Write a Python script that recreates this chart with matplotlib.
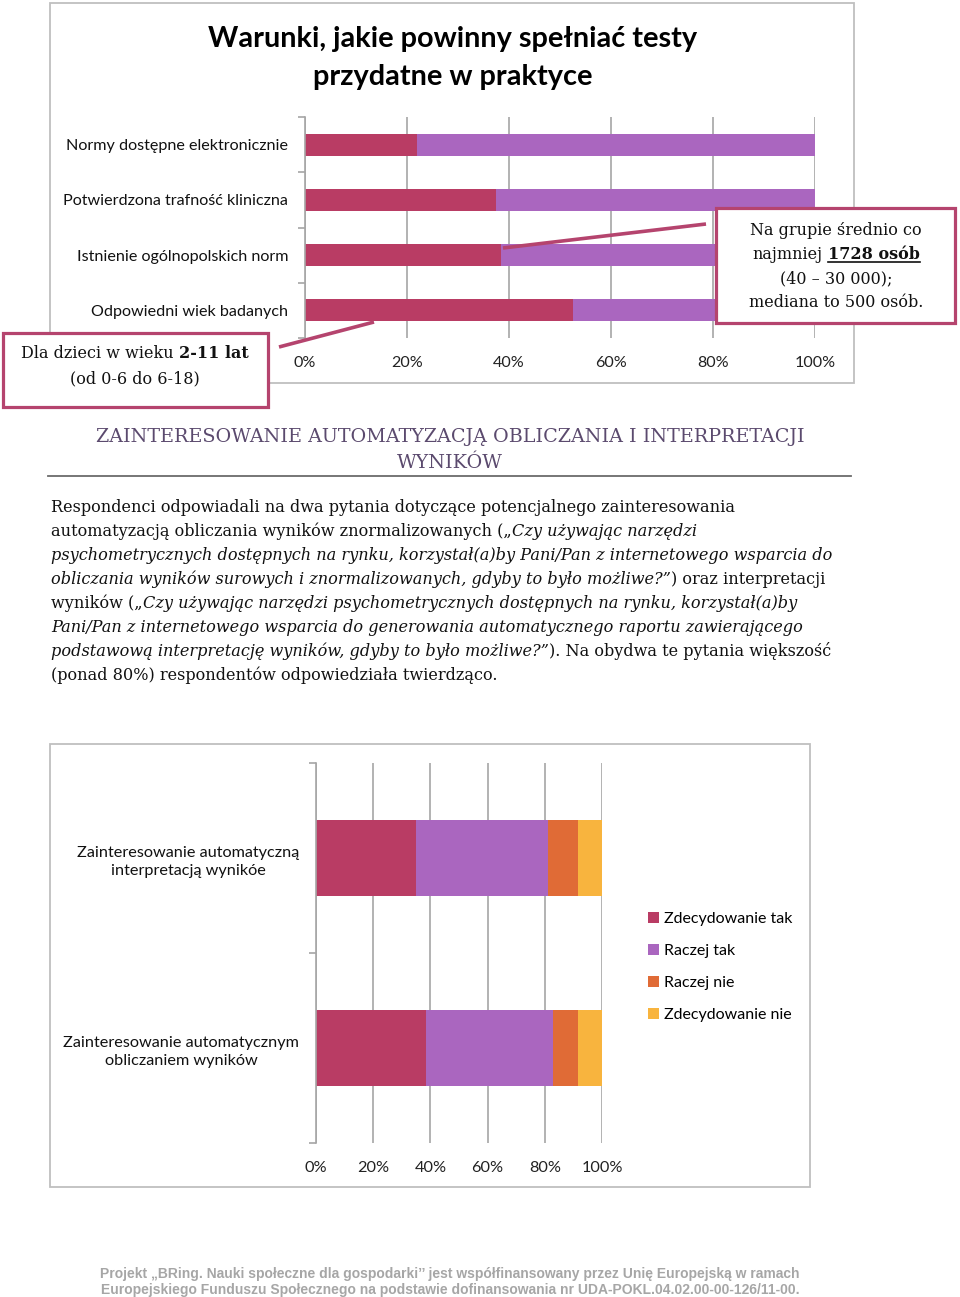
import matplotlib.pyplot as plt
from matplotlib.patches import Rectangle
from matplotlib.ticker import FixedLocator

W, H = 960, 1297

# top chart: share of first/second answer per condition (%)
top_cats = ["Normy dostępne elektronicznie", "Potwierdzona trafność kliniczna",
            "Istnienie ogólnopolskich norm", "Odpowiedni wiek badanych"]
top_first = [22, 37.5, 38.5, 52.5]
top_second = [78, 62.5, 61.5, 47.5]

# bottom chart: interest in automation (%)
bot_cats = ["Zainteresowanie automatyczną\ninterpretacją wynikóe",
            "Zainteresowanie automatycznym\nobliczaniem wyników"]
bot_series = ["Zdecydowanie tak", "Raczej tak", "Raczej nie", "Zdecydowanie nie"]
bot_values = [[35, 38.5],
              [46, 44.5],
              [10.5, 8.5],
              [8.5, 8.5]]

pct_ticks = [0, 20, 40, 60, 80, 100]
pct_labels = ["0%", "20%", "40%", "60%", "80%", "100%"]

RED = "#b93c64"
PURPLE = "#aa66bf"
ORANGE = "#e06b36"
YELLOW = "#f8b43e"
BOX = "#b5446e"
FRAME = "#bfbfbf"
GRID = "#a6a6a6"

SANS = ["Lato", "DejaVu Sans"]
SERIF = ["DejaVu Serif"]

fig = plt.figure(figsize=(W / 100, H / 100), dpi=100)
renderer = fig.canvas.get_renderer()


def px_axes(x0, y0, x1, y1, z=1):
    return fig.add_axes([x0 / W, 1 - y1 / H, (x1 - x0) / W, (y1 - y0) / H], zorder=z)


def overlay(z):
    a = fig.add_axes([0, 0, 1, 1], zorder=z)
    a.set_xlim(0, W)
    a.set_ylim(H, 0)
    a.axis("off")
    a.patch.set_alpha(0)
    return a


back = overlay(0)
front = overlay(10)


def text_width(ax, s, **kw):
    t = ax.text(0, 0, s, **kw)
    w = t.get_window_extent(renderer).width
    t.remove()
    return w


def draw_runs(ax, x, y, parts, ha="left", underline=None, **kw):
    # parts: (text, style, weight); draws one line made of mixed-style runs
    space = text_width(ax, "a a", **kw) - text_width(ax, "aa", **kw)
    items = []
    cx = 0
    for txt, st, wt in parts:
        lead = len(txt) - len(txt.lstrip(" "))
        trail = len(txt) - len(txt.rstrip(" "))
        core = txt.strip(" ")
        cx += lead * space
        w = text_width(ax, core, style=st, weight=wt, **kw)
        items.append((cx, core, st, wt, w))
        cx += w + trail * space
    off = x - cx / 2 if ha == "center" else x
    for i, (px, core, st, wt, w) in enumerate(items):
        ax.text(off + px, y, core, style=st, weight=wt, va="baseline", ha="left", **kw)
        if underline is not None and i == underline:
            ax.plot([off + px, off + px + w], [y + 3, y + 3], color=kw.get("color", "k"), lw=1.2)


def style_axis(ax, n, labels, size, pad):
    ax.set_xlim(0, 100)
    ax.set_ylim(n - 0.5, -0.5)
    ax.set_xticks(pct_ticks)
    ax.set_xticklabels(pct_labels, family=SANS, fontsize=size, color="#222222")
    ax.set_yticks(range(n))
    ax.set_yticklabels(labels, family=SANS, fontsize=size, color="#111111",
                       multialignment="center", linespacing=1.45)
    ax.yaxis.set_minor_locator(FixedLocator([i - 0.5 for i in range(n + 1)]))
    ax.tick_params(axis="x", length=0, pad=13)
    ax.tick_params(axis="y", which="major", length=0, pad=pad)
    ax.tick_params(axis="y", which="minor", length=5, color=GRID, width=1.2)
    ax.grid(axis="x", color=GRID, lw=1.2)
    ax.set_axisbelow(True)
    for s in ["top", "right", "bottom"]:
        ax.spines[s].set_visible(False)
    ax.spines["left"].set_color(GRID)
    ax.spines["left"].set_linewidth(1.2)
    ax.patch.set_alpha(0)


# ---- top chart frame + title
back.add_patch(Rectangle((50, 3), 804, 380, fill=False, ec=FRAME, lw=1.3))
back.text(453, 47, "Warunki, jakie powinny spełniać testy", ha="center", va="baseline",
          family=SANS, fontsize=20.8, weight="bold", color="black")
back.text(453, 85, "przydatne w praktyce", ha="center", va="baseline",
          family=SANS, fontsize=20.8, weight="bold", color="black")

ax1 = px_axes(305, 117, 815, 338)
y1 = range(len(top_cats))
ax1.barh(y1, top_first, height=0.4, color=RED)
ax1.barh(y1, top_second, left=top_first, height=0.4, color=PURPLE)
style_axis(ax1, len(top_cats), top_cats, 11.6, 12)

# ---- callouts
front.add_patch(Rectangle((716, 208), 239, 115, fc="white", ec=BOX, lw=2.3))
front.plot([706, 503], [224, 248], color=BOX, lw=2.6, solid_capstyle="butt")
box_kw = dict(family=SERIF, fontsize=11.5, color="#111111")
draw_runs(front, 836, 235, [("Na grupie średnio co", "normal", "normal")], ha="center", **box_kw)
draw_runs(front, 836, 259, [("najmniej ", "normal", "normal"), ("1728 osób", "normal", "bold")],
          ha="center", underline=1, **box_kw)
draw_runs(front, 836, 283, [("(40 – 30 000);", "normal", "normal")], ha="center", **box_kw)
draw_runs(front, 836, 307, [("mediana to 500 osób.", "normal", "normal")], ha="center", **box_kw)

front.add_patch(Rectangle((3, 333), 265, 74, fc="white", ec=BOX, lw=2.3))
front.plot([279, 374], [347, 322], color=BOX, lw=2.6, solid_capstyle="butt")
draw_runs(front, 135, 358, [("Dla dzieci w wieku ", "normal", "normal"), ("2-11 lat", "normal", "bold")],
          ha="center", **box_kw)
draw_runs(front, 135, 383, [("(od 0-6 do 6-18)", "normal", "normal")], ha="center", **box_kw)

# ---- section heading
HEAD = "#5b4a6e"
back.text(450, 442, "ZAINTERESOWANIE AUTOMATYZACJĄ OBLICZANIA I INTERPRETACJI", ha="center",
          va="baseline", family=SERIF, fontsize=13.8, color=HEAD)
back.text(450, 468, "WYNIKÓW", ha="center", va="baseline", family=SERIF, fontsize=13.8, color=HEAD)
back.plot([48, 851], [476, 476], color="#6b6b6b", lw=1.3)

# ---- body paragraph
N, I = "normal", "italic"
body = [
    [("Respondenci odpowiadali na dwa pytania dotyczące potencjalnego zainteresowania", N, N)],
    [("automatyzacją obliczania wyników znormalizowanych („", N, N), ("Czy używając narzędzi", I, N)],
    [("psychometrycznych dostępnych na rynku, korzystał(a)by Pani/Pan z internetowego wsparcia do", I, N)],
    [("obliczania wyników surowych i znormalizowanych, gdyby to było możliwe?”", I, N),
     (") oraz interpretacji", N, N)],
    [("wyników („", N, N), ("Czy używając narzędzi psychometrycznych dostępnych na rynku, korzystał(a)by", I, N)],
    [("Pani/Pan z internetowego wsparcia do generowania automatycznego raportu zawierającego", I, N)],
    [("podstawową interpretację wyników, gdyby to było możliwe?”", I, N),
     ("). Na obydwa te pytania większość", N, N)],
    [("(ponad 80%) respondentów odpowiedziała twierdząco.", N, N)],
]
for k, line in enumerate(body):
    draw_runs(back, 51, 512 + 24 * k, line, family=SERIF, fontsize=11.6, color="#111111")

# ---- bottom chart
back.add_patch(Rectangle((50, 744), 760, 443, fill=False, ec=FRAME, lw=1.3))
ax2 = px_axes(316, 763, 602, 1143)
y2 = range(len(bot_cats))
colors = [RED, PURPLE, ORANGE, YELLOW]
left = [0] * len(bot_cats)
for name, vals, c in zip(bot_series, bot_values, colors):
    ax2.barh(y2, vals, left=left, height=0.395, color=c, label=name)
    left = [a + b for a, b in zip(left, vals)]
style_axis(ax2, len(bot_cats), bot_cats, 11.7, 12)
ax2.legend(loc="upper left", bbox_to_anchor=(642 / W, 1 - 906 / H), bbox_transform=fig.transFigure,
           frameon=False, prop={"family": SANS, "size": 11.5}, handlelength=0.65, handleheight=0.65,
           handletextpad=0.3, labelspacing=1.12, borderaxespad=0)

# ---- footer
FOOT = "#a6a6a6"
foot_font = ["Liberation Sans"]
back.text(450, 1278, "Projekt „BRing. Nauki społeczne dla gospodarki’’ jest współfinansowany przez Unię Europejską w ramach",
          ha="center", va="baseline", family=foot_font, fontsize=10, weight="bold", color=FOOT)
back.text(450, 1294, "Europejskiego Funduszu Społecznego na podstawie dofinansowania nr UDA-POKL.04.02.00-00-126/11-00.",
          ha="center", va="baseline", family=foot_font, fontsize=10, weight="bold", color=FOOT)

fig.savefig("out.png", dpi=100)
